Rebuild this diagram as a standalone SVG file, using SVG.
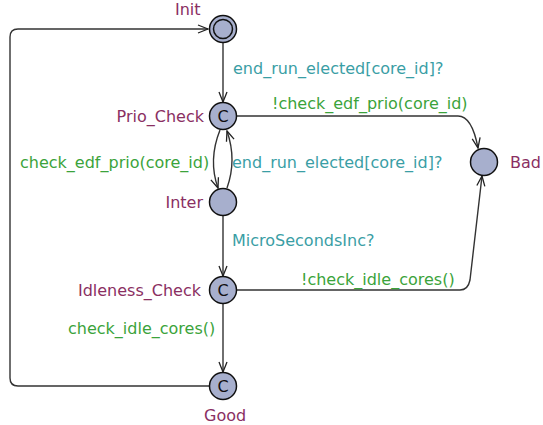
<svg xmlns="http://www.w3.org/2000/svg" width="543" height="425" viewBox="0 0 543 425">
<defs>
<marker id="arr" viewBox="0 0 12 10" refX="11" refY="5" markerWidth="12" markerHeight="10" markerUnits="userSpaceOnUse" orient="auto">
<path d="M1,1 L11,5 L1,9" fill="none" stroke="#222" stroke-width="1.3"/>
</marker>
<style>
.n{fill:#a7afcd;stroke:#111;stroke-width:1.5}
.e{fill:none;stroke:#333;stroke-width:1.4;marker-end:url(#arr)}
text{font-family:"DejaVu Sans",sans-serif;font-size:16px}
.nm{fill:#8a2f62}
.sy{fill:#3a9ea5}
.gd{fill:#3ba33b}
.c{fill:#111;text-anchor:middle}
</style>
</defs>
<g id="edges">
<path class="e" d="M209,386 L18,386 Q10,386 10,378 L10,37 Q10,29 18,29 L208,29"/>
<path class="e" d="M223,43 L223,102"/>
<path class="e" d="M237,116 L458,116 Q472,116 478,148"/>
<path class="e" d="M220,130 Q208,160 218,188"/>
<path class="e" d="M227,188 Q237,160 227,131"/>
<path class="e" d="M223,216 L223,276"/>
<path class="e" d="M237,290 L460,290 Q468,290 470,280 L482,176"/>
<path class="e" d="M223,304 L223,372"/>
</g>
<g id="Init">
<circle class="n" cx="223" cy="29" r="13.5"/>
<circle class="n" cx="223" cy="29" r="9.5"/>
<text class="nm" x="175" y="15">Init</text>
</g>
<g id="Prio_Check">
<circle class="n" cx="223" cy="116" r="13.5"/>
<text class="c" x="223" y="122">C</text>
<text class="nm" x="204" y="122" text-anchor="end">Prio_Check</text>
</g>
<g id="Inter">
<circle class="n" cx="223" cy="202" r="13.5"/>
<text class="nm" x="203" y="208" text-anchor="end">Inter</text>
</g>
<g id="Idleness_Check">
<circle class="n" cx="223" cy="290" r="13.5"/>
<text class="c" x="223" y="296">C</text>
<text class="nm" x="201" y="296" text-anchor="end">Idleness_Check</text>
</g>
<g id="Good">
<circle class="n" cx="223" cy="386" r="13.5"/>
<text class="c" x="223" y="392">C</text>
<text class="nm" x="204" y="421">Good</text>
</g>
<g id="Bad">
<circle class="n" cx="484" cy="162" r="13.5"/>
<text class="nm" x="510" y="168">Bad</text>
</g>
<g id="labels">
<text class="sy" x="233" y="74">end_run_elected[core_id]?</text>
<text class="gd" x="272" y="109">!check_edf_prio(core_id)</text>
<text class="gd" x="20" y="168">check_edf_prio(core_id)</text>
<text class="sy" x="232" y="168">end_run_elected[core_id]?</text>
<text class="sy" x="232" y="246">MicroSecondsInc?</text>
<text class="gd" x="301" y="285">!check_idle_cores()</text>
<text class="gd" x="68" y="334">check_idle_cores()</text>
</g>
</svg>
